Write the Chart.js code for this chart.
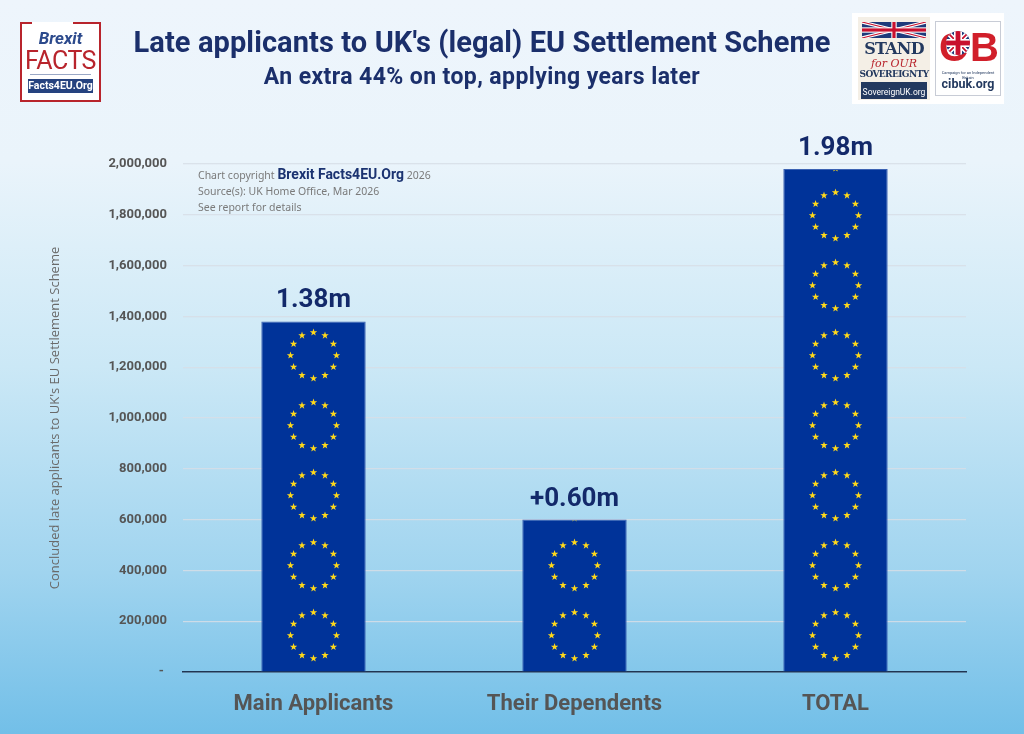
<!DOCTYPE html>
<html>
<head>
<meta charset="utf-8">
<script src="https://cdn.jsdelivr.net/npm/chart.js@4.4.1/dist/chart.umd.min.js"></script>
<style>
  body {
    margin: 0; width: 1024px; height: 734px; overflow: hidden; position: relative;
    font-family: Roboto, "Noto Sans", sans-serif;
    background: linear-gradient(180deg, #eef5fc 0%, #eaf4fb 22%, #cbe8f6 50%, #a0d4ef 78%, #72bfe8 100%);
  }
  #wrap { position: absolute; left: 0; top: 0; width: 1024px; height: 734px; }
  .title { position: absolute; left: 0; width: 964px; text-align: center; color: #1b2f6b; font-weight: bold; }
  #t1 { top: 25px; font-size: 29px; letter-spacing: 0.1px; }
  #t2 { top: 63px; font-size: 23px; letter-spacing: 0.4px; }
  #note { position: absolute; left: 198px; top: 166px; font-family: "Noto Sans", sans-serif; font-size: 10.5px; color: #7a7a7a; line-height: 16px; }
  #note b { font-family: Roboto, sans-serif; font-size: 14px; color: #1b3371; }
  /* left logo */
  #bf { position: absolute; left: 20px; top: 22px; width: 77px; height: 78px; background: #fff;
        border: 2px solid #b8242c; border-top: none; text-align: center; }
  #bf .cl, #bf .cr { position: absolute; top: 0; height: 2px; background: #b8242c; width: 10px; }
  #bf .cl { left: 0; } #bf .cr { right: 0; width: 26px; }
  #bf .b1 { position: absolute; top: 6px; width: 100%; font-size: 17px; font-style: italic; font-weight: bold; color: #2c4a8c; }
  #bf .b2 { position: absolute; top: 24px; width: 100%; font-size: 25px; color: #b8242c; letter-spacing: -0.5px; }
  #bf .b3 { position: absolute; left: 8px; right: 8px; top: 52px; height: 1px; background: #9aa8c6; }
  #bf .b4 { position: absolute; left: 6px; right: 6px; top: 57px; height: 14px; background: #25427f; color: #fff;
            font-size: 10.5px; font-weight: bold; line-height: 14px; }
  /* right logos */
  #rl { position: absolute; left: 852px; top: 13px; width: 152px; height: 91px; background: #fff; }
  #sov { position: absolute; left: 6px; top: 4px; width: 72px; height: 83px; background: #f4efe6; text-align: center;
         font-family: "DejaVu Serif", "Liberation Serif", serif; }
  #sov canvas { position: absolute; left: 4px; top: 5px; }
  #sov .s1 { position: absolute; top: 22px; width: 100%; font-size: 16px; font-weight: bold; color: #23395f; letter-spacing: -0.8px; }
  #sov .s2 { position: absolute; top: 40px; width: 100%; font-size: 11px; font-style: italic; color: #b8242c; }
  #sov .s3 { position: absolute; top: 52px; width: 100%; font-size: 9px; font-weight: bold; color: #23395f; letter-spacing: -0.6px; }
  #sov .s4 { position: absolute; left: 3px; right: 3px; top: 65px; height: 17px; background: #23395f; color: #fff;
             font-family: Roboto, sans-serif; font-size: 8.5px; line-height: 20px; }
  #cib { position: absolute; left: 83px; top: 8px; width: 64px; height: 73px; border: 1px solid #c8ccd6; background: #fff; text-align: center; }
  #cib .c1 { position: absolute; left: 3px; top: 3px; font-size: 40px; font-weight: bold; color: #d11f2a; line-height: 44px; font-family: "Liberation Sans", sans-serif; }
  #cib .c2 { position: absolute; left: 34px; top: 3px; font-size: 40px; font-weight: bold; color: #d11f2a; line-height: 44px; font-family: "Liberation Sans", sans-serif; }
  #cib canvas { position: absolute; left: 10px; top: 9px; }
  #cib .c3 { position: absolute; top: 48px; width: 100%; font-size: 4px; color: #23395f; }
  #cib .c4 { position: absolute; top: 54px; width: 100%; font-size: 12.5px; font-weight: bold; color: #23395f; }
</style>
</head>
<body>
<div id="wrap"><canvas id="chart"></canvas></div>

<div class="title" id="t1">Late applicants to UK's (legal) EU Settlement Scheme</div>
<div class="title" id="t2">An extra 44% on top, applying years later</div>

<div id="note">Chart copyright <b>Brexit Facts4EU.Org</b> 2026<br>Source(s): UK Home Office, Mar 2026<br>See report for details</div>

<div id="bf">
  <div class="cl"></div><div class="cr"></div>
  <div class="b1">Brexit</div>
  <div class="b2">FACTS</div>
  <div class="b3"></div>
  <div class="b4">Facts4EU.Org</div>
</div>

<div id="rl">
  <div id="sov">
    <canvas id="ujSov" width="64" height="16"></canvas>
    <div class="s1">STAND</div>
    <div class="s2">for OUR</div>
    <div class="s3">SOVEREIGNTY</div>
    <div class="s4">SovereignUK.org</div>
  </div>
  <div id="cib">
    <div class="c1">C</div>
    <canvas id="ujCib" width="24" height="24"></canvas>
    <div class="c2">B</div>
    <div class="c3">Campaign for an Independent Britain</div>
    <div class="c4">cibuk.org</div>
  </div>
</div>

<script>
// Chart data
const categories = ["Main Applicants", "Their Dependents", "TOTAL"];
const applicants = [1380000, 600000, 1980000];
const barLabels = ["1.38m", "+0.60m", "1.98m"];
const yMax = 2000000;
const yStep = 200000;

// small union jacks for the logos
function unionJack(id, round) {
    const c = document.getElementById(id);
    const g = c.getContext("2d");
    const w = c.width, h = c.height;
    if (round) {
        g.beginPath();
        g.arc(w / 2, h / 2, w / 2, 0, Math.PI * 2);
        g.clip();
    }
    g.fillStyle = "#1f3a7a";
    g.fillRect(0, 0, w, h);
    g.strokeStyle = "#fff";
    g.lineWidth = h * 0.2;
    g.beginPath(); g.moveTo(0, 0); g.lineTo(w, h); g.moveTo(w, 0); g.lineTo(0, h); g.stroke();
    g.strokeStyle = "#c8102e";
    g.lineWidth = h * 0.07;
    g.stroke();
    g.fillStyle = "#fff";
    g.fillRect(w / 2 - h / 6, 0, h / 3, h);
    g.fillRect(0, h / 2 - h / 6, w, h / 3);
    g.fillStyle = "#c8102e";
    g.fillRect(w / 2 - h / 10, 0, h / 5, h);
    g.fillRect(0, h / 2 - h / 10, w, h / 5);
}
unionJack("ujSov", false);
unionJack("ujCib", true);

// EU flag stars inside each bar
function star(ctx, x, y, r) {
    ctx.beginPath();
    for (let i = 0; i < 10; i++) {
        const a = -Math.PI / 2 + i * Math.PI / 5;
        const rr = i % 2 ? r * 0.4 : r;
        ctx.lineTo(x + rr * Math.cos(a), y + rr * Math.sin(a));
    }
    ctx.closePath();
    ctx.fill();
}

const euStars = {
    id: "euStars",
    afterDatasetsDraw(chart) {
        const ctx = chart.ctx;
        const meta = chart.getDatasetMeta(0);
        meta.data.forEach((bar, i) => {
            const left = bar.x - bar.width / 2;
            ctx.save();
            ctx.beginPath();
            ctx.rect(left + 1, bar.y + 1, bar.width - 2, bar.base - bar.y - 1);
            ctx.clip();
            ctx.fillStyle = "#ffd91a";
            for (let cy = bar.base - 36; cy > bar.y - 30; cy -= 70) {
                for (let k = 0; k < 12; k++) {
                    const a = k * Math.PI / 6;
                    star(ctx, bar.x + 23 * Math.cos(a), cy + 23 * Math.sin(a), 3.9);
                }
            }
            ctx.restore();

            ctx.save();
            ctx.font = "bold 26px Roboto";
            ctx.fillStyle = "#13296a";
            ctx.textAlign = "center";
            ctx.textBaseline = "alphabetic";
            ctx.fillText(barLabels[i], bar.x, bar.y - 14);
            ctx.restore();
        });
    }
};

const ctx = document.getElementById("chart").getContext("2d");
new Chart(ctx, {
    type: "bar",
    data: {
        labels: categories,
        datasets: [{
            data: applicants,
            backgroundColor: "#003399",
            borderColor: "#3b62b3",
            borderWidth: 1,
            barPercentage: 0.4,
            categoryPercentage: 1.0,
        }],
    },
    options: {
        responsive: true,
        maintainAspectRatio: false,
        animation: false,
        layout: { padding: { left: 40, right: 58, top: 164, bottom: 0 } },
        plugins: {
            legend: { display: false },
            tooltip: { enabled: false },
        },
        scales: {
            x: {
                grid: { display: false },
                border: { color: "#1f3552", width: 1.5 },
                ticks: {
                    color: "#555555",
                    font: { family: "Roboto", size: 22, weight: "bold" },
                    padding: 11,
                },
                afterFit: (axis) => { axis.height = 62; },
            },
            y: {
                min: 0,
                max: yMax,
                grid: { color: "rgba(215,222,230,0.85)", lineWidth: 1.2, drawTicks: false },
                border: { display: false },
                ticks: {
                    stepSize: yStep,
                    color: "#555555",
                    padding: 16,
                    font: { family: "Roboto", size: 13, weight: "bold" },
                    callback: (v) => v === 0 ? "- " : v.toLocaleString("en-GB"),
                },
                title: {
                    display: true,
                    text: "Concluded late applicants to UK's EU Settlement Scheme",
                    color: "#6a6a6a",
                    font: { family: "Open Sans", size: 13 },
                    padding: { top: 7, bottom: 0 },
                },
                afterFit: (axis) => { axis.width = 143; },
            },
        },
    },
    plugins: [euStars],
});
</script>
</body>
</html>
